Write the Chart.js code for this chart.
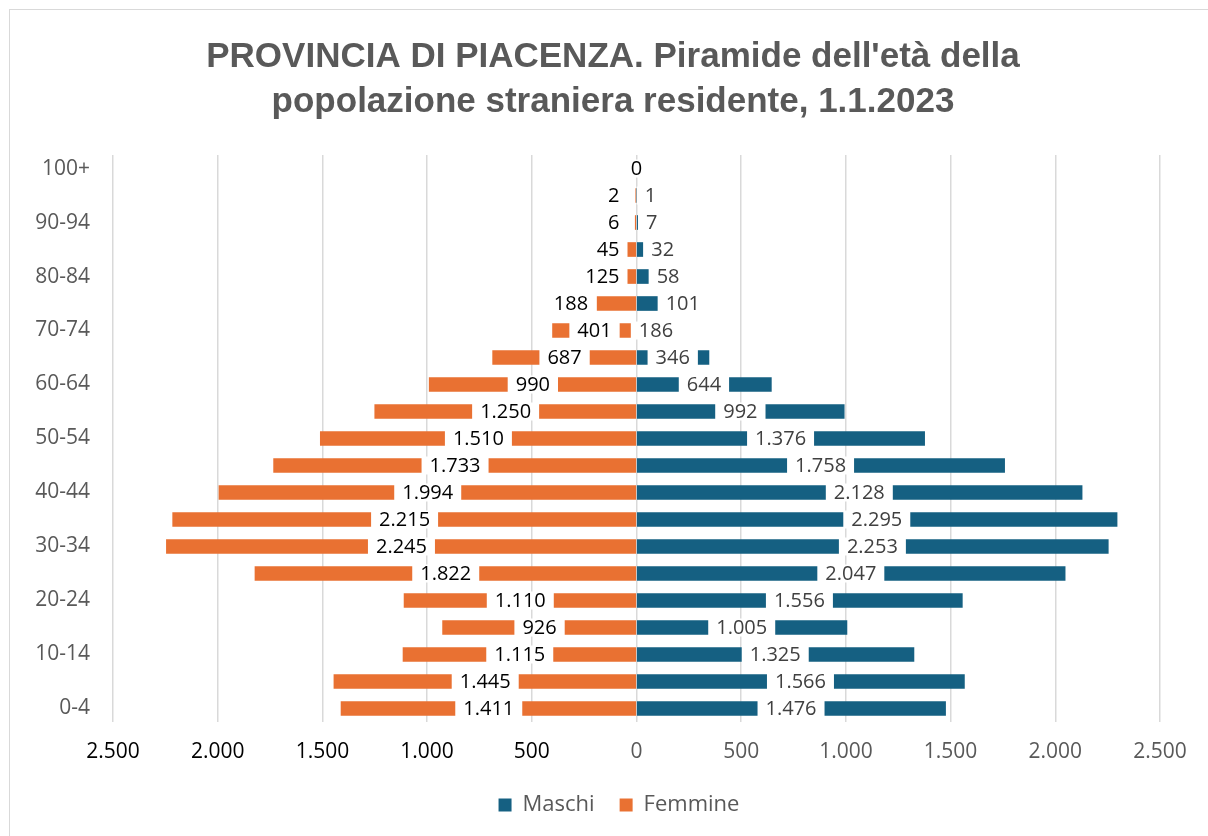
<!DOCTYPE html>
<html>
<head>
<meta charset="utf-8">
<script src="https://cdn.jsdelivr.net/npm/chart.js@4.4.1/dist/chart.umd.min.js"></script>
<style>
  html, body { margin: 0; padding: 0; background: #ffffff; overflow: hidden; }
  #frame { position: absolute; left: 9px; top: 9px; width: 1300px; height: 900px; border: 1px solid #d9d9d9; }
  #wrap { position: absolute; left: 0; top: 0; width: 1208px; height: 836px; }
</style>
</head>
<body>
<div id="frame"></div>
<div id="wrap"><canvas id="c"></canvas></div>
<script>
// ---- data ----
const categories = ['0-4','5-9','10-14','15-19','20-24','25-29','30-34','35-39','40-44','45-49','50-54','55-59','60-64','65-69','70-74','75-79','80-84','85-89','90-94','95-99','100+'];
const maschi  = [1476, 1566, 1325, 1005, 1556, 2047, 2253, 2295, 2128, 1758, 1376, 992, 644, 346, 186, 101, 58, 32, 7, 1, 0];
const femmine = [1411, 1445, 1115, 926, 1110, 1822, 2245, 2215, 1994, 1733, 1510, 1250, 990, 687, 401, 188, 125, 45, 6, 2, 0];
const xTicks = [-2500, -2000, -1500, -1000, -500, 0, 500, 1000, 1500, 2000, 2500];
const titleLines = ["PROVINCIA DI PIACENZA. Piramide dell'età della", "popolazione straniera residente, 1.1.2023"];
const seriesNames = ['Maschi', 'Femmine'];

const fmt = v => String(Math.abs(v)).replace(/\B(?=(\d{3})+(?!\d))/g, '.');
const FONT = "'Open Sans', 'Liberation Sans', sans-serif";

const barLabels = {
  id: 'barLabels',
  afterDatasetsDraw(chart) {
    const ctx = chart.ctx;
    ctx.save();
    ctx.font = '20px ' + FONT;
    ctx.textBaseline = 'middle';
    ctx.textAlign = 'center';
    [0, 1].forEach(di => {
      const meta = chart.getDatasetMeta(di);
      const data = chart.data.datasets[di].data;
      meta.data.forEach((bar, i) => {
        const v = data[i];
        if (v === 0 && di === 0) return;
        const txt = fmt(v);
        const w = ctx.measureText(txt).width;
        const props = bar.getProps(['x', 'y', 'base'], true);
        const base = chart.scales.x.getPixelForValue(0);
        const len = Math.abs(props.x - base);
        const need = di === 1 ? w + 10 : w + 4;
        let cx;
        if (v === 0) {
          cx = base;
        } else if (len >= need) {
          cx = (props.x + base) / 2;
        } else if (di === 1) {
          const right = len < 30 ? base - 17 : props.x - 9;
          cx = right - w / 2;
        } else {
          cx = props.x + 8 + w / 2;
        }
        ctx.fillStyle = '#ffffff';
        ctx.fillRect(cx - w / 2 - 8, props.y - 9, w + 16, 18);
        ctx.fillStyle = di === 1 ? '#000000' : '#404040';
        ctx.fillText(txt, cx, props.y + 1);
      });
    });
    ctx.restore();
  }
};

const boxShift = {
  id: 'boxShift',
  afterLayout(chart) {
    const lg = chart.legend;
    if (lg) { lg.left += 39; lg.right += 39; }
    const tb = chart.titleBlock;
    if (tb) { tb.left += 33; tb.right += 33; }
  }
};

new Chart(document.getElementById('c'), {
  type: 'bar',
  data: {
    labels: categories,
    datasets: [
      { label: seriesNames[0], data: maschi, backgroundColor: '#156082', barThickness: 14 },
      { label: seriesNames[1], data: femmine.map(v => -v), backgroundColor: '#E97132', barThickness: 14 }
    ]
  },
  options: {
    indexAxis: 'y',
    responsive: true,
    maintainAspectRatio: false,
    animation: false,
    layout: { padding: { left: 0, right: 48, top: 0, bottom: 10 } },
    scales: {
      x: {
        stacked: true,
        min: -2500, max: 2500,
        afterBuildTicks: s => { s.ticks = xTicks.map(v => ({ value: v })); },
        afterFit: s => { s.height = 47; },
        grid: { color: '#d9d9d9', drawTicks: false, lineWidth: 1.5 },
        border: { display: false },
        ticks: {
          padding: 17,
          font: { size: 21, family: FONT },
          color: c => (c.tick && c.tick.value < 0) ? '#000000' : '#595959',
          callback: v => fmt(v)
        }
      },
      y: {
        stacked: true,
        reverse: true,
        afterFit: s => { s.width = 113; },
        grid: { display: false, drawTicks: false },
        border: { display: false },
        ticks: {
          autoSkip: false,
          padding: 23,
          font: { size: 21, family: FONT },
          color: '#595959',
          callback: function(v, idx) { return idx % 2 === 0 ? this.getLabelForValue(v) : ''; }
        }
      }
    },
    plugins: {
      title: {
        display: true,
        text: titleLines,
        color: '#595959',
        font: { size: 35, weight: 'bold', family: "'Liberation Sans', Arial, sans-serif", lineHeight: 1.286 },
        padding: { top: 35, bottom: 30 }
      },
      legend: {
        position: 'bottom',
        labels: {
          boxWidth: 13, boxHeight: 13,
          padding: 25,
          color: '#595959',
          font: { size: 22, family: FONT }
        }
      },
      tooltip: { enabled: false }
    }
  },
  plugins: [barLabels, boxShift]
});
</script>
</body>
</html>
